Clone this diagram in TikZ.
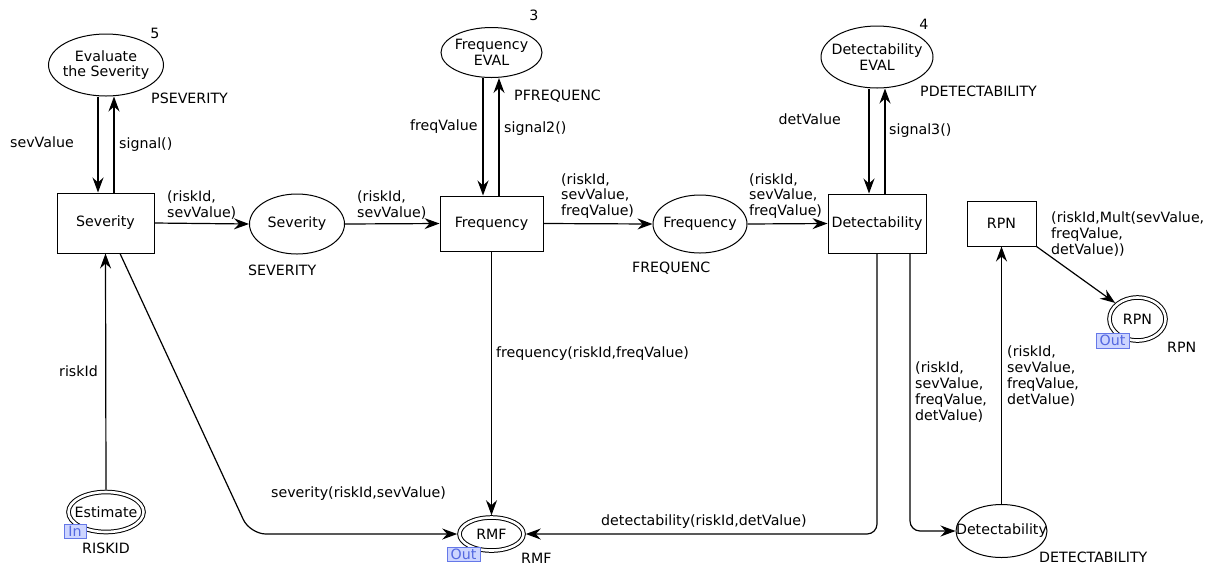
\documentclass[tikz,border=0pt]{standalone}
\usepackage{fontspec}
\setmainfont{DejaVu Sans}
\usetikzlibrary{arrows.meta,shapes.geometric}
\definecolor{tagfill}{HTML}{CDD5FF}
\definecolor{tagline}{HTML}{6578E8}
\definecolor{tagtext}{HTML}{5468E0}
\newcommand\diagfont{\fontsize{14.2}{15.8}\selectfont}

\begin{document}
\begin{tikzpicture}[x=1pt,y=-1pt,
  every node/.style={font=\diagfont},
  place/.style={draw, ellipse, line width=1pt, inner sep=0pt},
  trans/.style={draw, rectangle, line width=1pt, inner sep=0pt},
  port/.style={draw, ellipse, line width=1pt, double, double distance=2.6pt, inner sep=0pt, outer sep=2.3pt},
  tag/.style={draw=tagline, fill=tagfill, text=tagtext, line width=0.8pt, inner sep=0pt},
  lbl/.style={inner sep=0pt, anchor=west, align=left},
  arc/.style={line width=1.2pt, -{Stealth[length=15pt,width=11pt,inset=5pt]}}
]
\fill[white] (0,0) rectangle (1214,566);
\useasboundingbox (0,0) rectangle (1214,566);

% column positions of the vertical connectors
\coordinate (cS1) at (98,0);
\coordinate (cS2) at (114,0);
\coordinate (cF1) at (483,0);
\coordinate (cF2) at (499,0);
\coordinate (cD1) at (869,0);
\coordinate (cD2) at (885,0);
\coordinate (cSd) at (120,0);
\coordinate (cDb) at (910,0);
\coordinate (sevbend) at (250,534);

% evaluation places
\node[place, minimum width=115pt, minimum height=62pt] (evalsev) at (106,65) {};
\node[align=center] at (evalsev) {Evaluate\\the Severity};
\node[place, minimum width=101pt, minimum height=50pt] (freqeval) at (491.5,52.5) {};
\node[align=center] at (freqeval) {Frequency\\EVAL};
\node[place, minimum width=112pt, minimum height=62pt] (deteval) at (877,57) {};
\node[align=center] at (deteval) {Detectability\\EVAL};

% transitions
\node[trans, minimum width=97pt, minimum height=60pt] (sevbox) at (105.5,223) {Severity};
\node[trans, minimum width=103pt, minimum height=55pt] (freqbox) at (491.5,223.5) {Frequency};
\node[trans, minimum width=98pt, minimum height=59pt] (detbox) at (877,223.5) {Detectability};
\node[trans, minimum width=69pt, minimum height=45pt] (rpnbox) at (1001.5,223.5) {RPN};

% intermediate places
\node[place, minimum width=95pt, minimum height=60pt] (sevplace) at (297,224) {};
\node at (sevplace) {Severity};
\node[place, minimum width=94pt, minimum height=58pt] (freqplace) at (700,224) {};
\node at (freqplace) {Frequency};
\node[place, minimum width=91pt, minimum height=53pt] (detplace) at (1001.5,531) {};
\node at (detplace) {Detectability};

% port places
\node[port, minimum width=75pt, minimum height=40pt] (estimate) at (106,512) {};
\node at (estimate) {Estimate};
\node[port, minimum width=64pt, minimum height=33pt] (rmf) at (491.5,534) {};
\node at (rmf) {RMF};
\node[port, minimum width=56pt, minimum height=43pt] (rpnplace) at (1137.5,319) {};
\node at (rpnplace) {RPN};

% port tags
\node[tag, minimum width=22pt, minimum height=14pt] (tagin) at (75,531) {In};
\node[tag, minimum width=33pt, minimum height=14pt] (tagrmf) at (463.5,554) {Out};
\node[tag, minimum width=33pt, minimum height=15pt] (tagrpn) at (1112.5,340.5) {Out};

% place names and numbers
\node[lbl] (nPsev) at (151,98) {PSEVERITY};
\node[lbl] (nPfreq) at (514,96) {PFREQUENC};
\node[lbl] (nPdet) at (920,91) {PDETECTABILITY};
\node (n5) at (155,33) {5};
\node (n3) at (534,15) {3};
\node (n4) at (924,24) {4};
\node[lbl] (nSev) at (248,270) {SEVERITY};
\node[lbl] (nFreq) at (632,268) {FREQUENC};
\node[lbl] (nRisk) at (82,548) {RISKID};
\node[lbl] (nRmf) at (521,558) {RMF};
\node[lbl] (nRpn) at (1167,347) {RPN};
\node[lbl] (nDet) at (1039,557) {DETECTABILITY};

% connectors
\draw[arc] (evalsev.south -| cS1) -- (sevbox.north -| cS1);
\draw[arc] (sevbox.north -| cS2) -- (evalsev.south -| cS2);
\draw[arc] (freqeval.south -| cF1) -- (freqbox.north -| cF1);
\draw[arc] (freqbox.north -| cF2) -- (freqeval.south -| cF2);
\draw[arc] (deteval.south -| cD1) -- (detbox.north -| cD1);
\draw[arc] (detbox.north -| cD2) -- (deteval.south -| cD2);

\draw[arc] (sevbox.east) -- (sevplace.west);
\draw[arc] (sevplace.east) -- (freqbox.west);
\draw[arc] (freqbox.east) -- (freqplace.west);
\draw[arc] (freqplace.east) -- (detbox.west);

\draw[arc] (estimate.north) -- (sevbox.south);
\draw[arc, rounded corners=16pt] (sevbox.south -| cSd) -- (sevbend) -- (rmf.west);
\draw[arc] (freqbox.south) -- (rmf.north);
\draw[arc, rounded corners=10pt] (detbox.south) -- (detbox.south |- rmf.east) -- (rmf.east);
\draw[arc, rounded corners=10pt] (detbox.south -| cDb) -- (cDb |- detplace.west) -- (detplace.west);
\draw[arc] (detplace.north) -- (rpnbox.south);
\draw[arc] (rpnbox.south east) -- (rpnplace);

% arc inscriptions
\node[lbl] (iSev) at (10,142) {sevValue};
\node[lbl] (iSig) at (119,145) {signal()};
\node[lbl] (iFreq) at (410,127) {freqValue};
\node[lbl] (iSig2) at (504,129) {signal2()};
\node[lbl, anchor=east] (iDet) at (841,119) {detValue};
\node[lbl] (iSig3) at (889,131) {signal3()};
\node[lbl] (iA1) at (167,205) {(riskId,\\sevValue)};
\node[lbl] (iA2) at (357,205) {(riskId,\\sevValue)};
\node[lbl] (iA3) at (561,196) {(riskId,\\sevValue,\\freqValue)};
\node[lbl] (iA4) at (749,196) {(riskId,\\sevValue,\\freqValue)};
\node[lbl] (iRpn) at (1051,234) {(riskId,Mult(sevValue,\\freqValue,\\detValue))};
\node[lbl] (iRisk) at (59,371) {riskId};
\node[lbl] (iFq) at (496,354) {frequency(riskId,freqValue)};
\node[lbl] (iSv) at (271,494) {severity(riskId,sevValue)};
\node[lbl] (iDt) at (601,522) {detectability(riskId,detValue)};
\node[lbl] (iDL) at (915,392) {(riskId,\\sevValue,\\freqValue,\\detValue)};
\node[lbl] (iDR) at (1007,376) {(riskId,\\sevValue,\\freqValue,\\detValue)};
\end{tikzpicture}
\end{document}
